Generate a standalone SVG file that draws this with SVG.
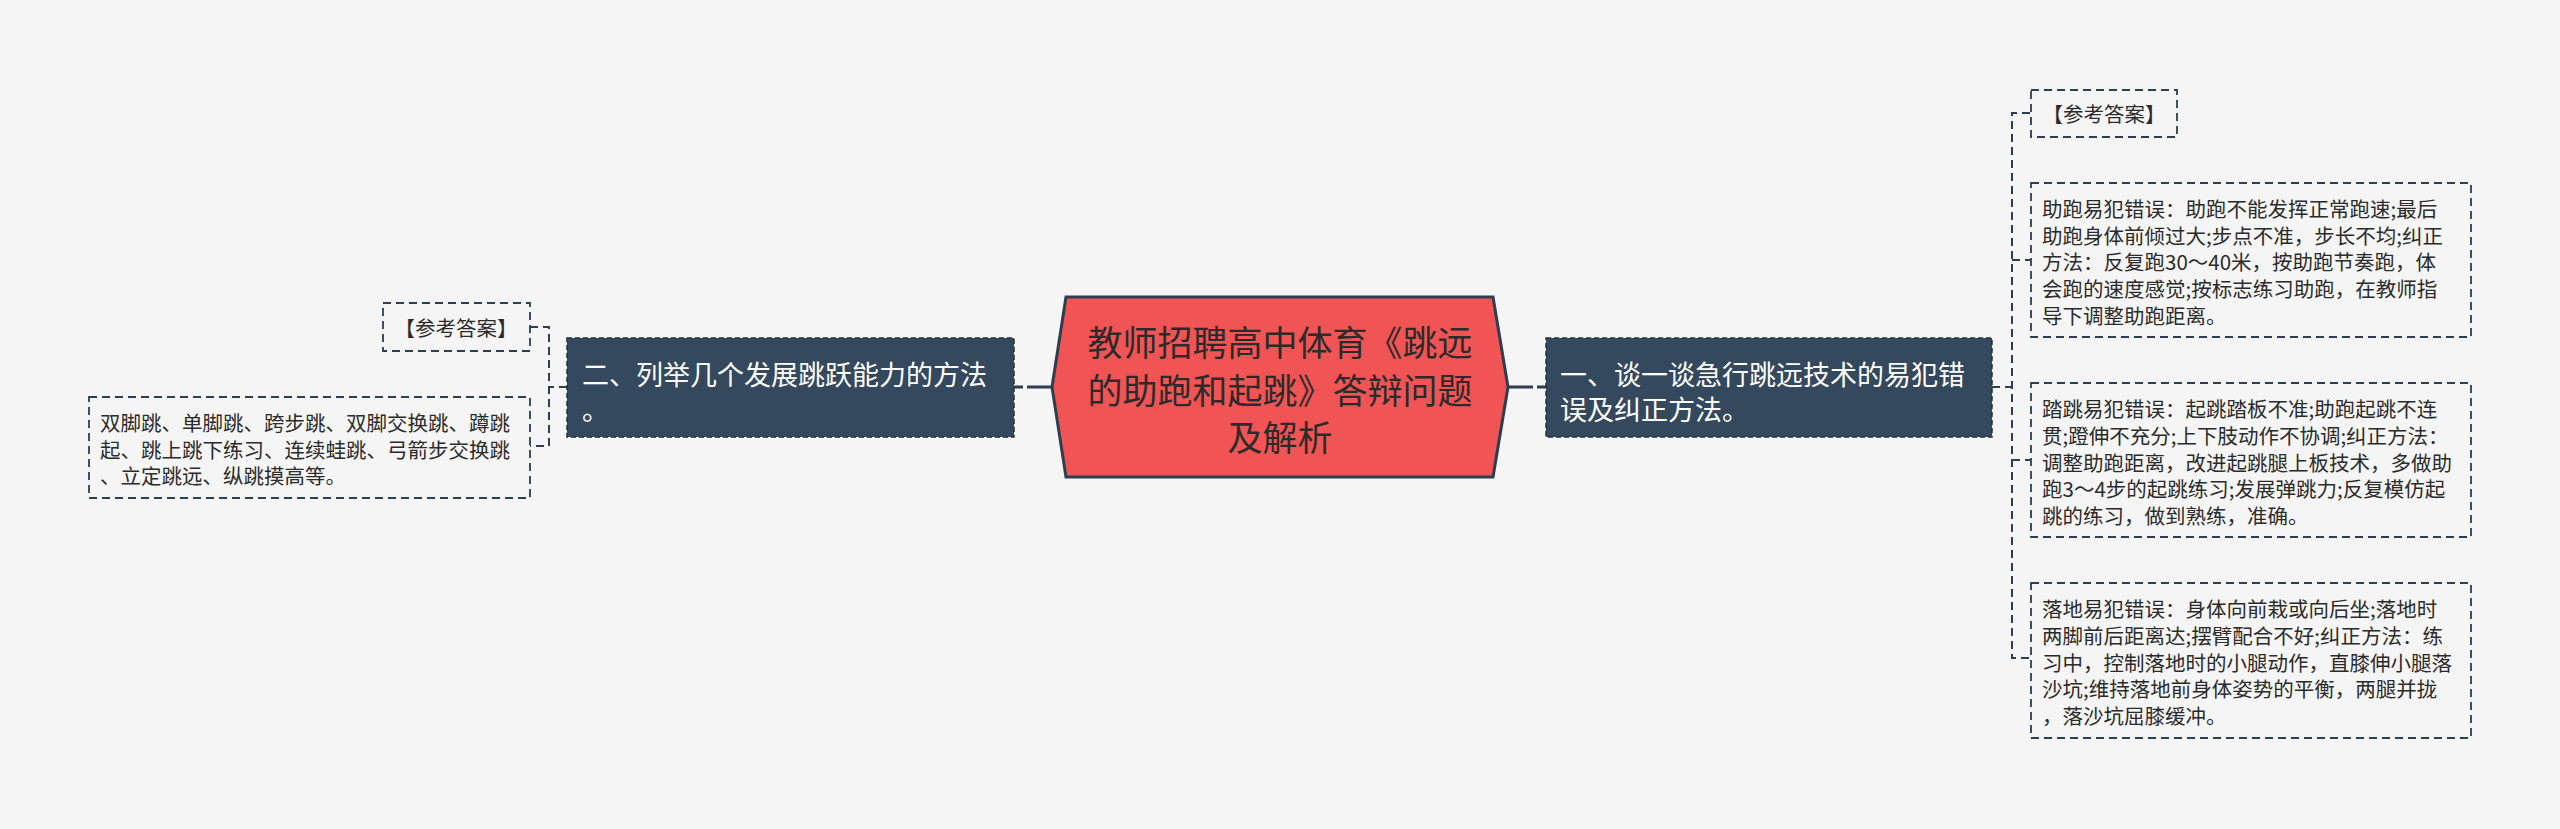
<svg xmlns="http://www.w3.org/2000/svg" width="2560" height="829" viewBox="0 0 2560 829">
<style>
text{font-family:"Noto Sans CJK SC","Noto Sans",sans-serif;dominant-baseline:central}
.center{fill:#F05454;stroke:#2C3E50;stroke-width:3}
.ctext{font-size:35px;fill:#2b2b2b;text-anchor:middle}
.main{fill:#34495E;stroke:#22313F;stroke-width:1.5;stroke-dasharray:5 3}
.mtext{font-size:27px;fill:#ffffff}
.leaf{fill:none;stroke:#2C3E50;stroke-width:1.8;stroke-dasharray:8 5}
.ltext{font-size:20.5px;fill:#2b2b2b}
.dash{fill:none;stroke:#2C3E50;stroke-width:2;stroke-dasharray:8 5}
.solid{fill:none;stroke:#2C3E50;stroke-width:3}
</style>
<rect width="2560" height="829" fill="#F5F5F5"/>
<g id="connectors">
<path class="solid" d="M1508 387 H1533"/>
<path class="solid" d="M1537 387 H1546" stroke-width="2.5"/>
<path class="solid" d="M1052 387 H1027"/>
<path class="solid" d="M1023 387 H1014" stroke-width="2.5"/>
<path class="dash" d="M1992 387 H2012"/>
<path class="dash" d="M2030 113 H2012 V658 H2030"/>
<path class="dash" d="M2012 260 H2030"/>
<path class="dash" d="M2012 460 H2030"/>
<path class="dash" d="M567 387 H549"/>
<path class="dash" d="M530 327 H549 V446 H530"/>
</g>
<g id="center">
<polygon class="center" points="1066,297 1493,297 1508,387 1493,477 1066,477 1052,387"/>
<text class="ctext" x="1280" y="340">教师招聘高中体育《跳远</text>
<text class="ctext" x="1280" y="388">的助跑和起跳》答辩问题</text>
<text class="ctext" x="1280" y="435">及解析</text>
</g>
<g id="node-right">
<rect class="main" x="1546" y="338" width="446" height="99"/>
<text class="mtext" x="1560" y="373">一、谈一谈急行跳远技术的易犯错</text>
<text class="mtext" x="1560" y="408">误及纠正方法。</text>
</g>
<g id="node-left">
<rect class="main" x="567" y="338" width="447" height="99"/>
<text class="mtext" x="582" y="373">二、列举几个发展跳跃能力的方法</text>
<text class="mtext" x="582" y="408">。</text>
</g>
<g id="leaf-right-ref">
<rect class="leaf" x="2031" y="90" width="146" height="47"/>
<text class="ltext" x="2104" y="113" text-anchor="middle">【参考答案】</text>
</g>
<g id="leaf-right-1">
<rect class="leaf" x="2031" y="183" width="440" height="154"/>
<text class="ltext" x="2042" y="208">助跑易犯错误：助跑不能发挥正常跑速;最后</text>
<text class="ltext" x="2042" y="234.5">助跑身体前倾过大;步点不准，步长不均;纠正</text>
<text class="ltext" x="2042" y="261">方法：反复跑30～40米，按助跑节奏跑，体</text>
<text class="ltext" x="2042" y="288">会跑的速度感觉;按标志练习助跑，在教师指</text>
<text class="ltext" x="2042" y="315">导下调整助跑距离。</text>
</g>
<g id="leaf-right-2">
<rect class="leaf" x="2031" y="383" width="440" height="154"/>
<text class="ltext" x="2042" y="408">踏跳易犯错误：起跳踏板不准;助跑起跳不连</text>
<text class="ltext" x="2042" y="435">贯;蹬伸不充分;上下肢动作不协调;纠正方法：</text>
<text class="ltext" x="2042" y="462">调整助跑距离，改进起跳腿上板技术，多做助</text>
<text class="ltext" x="2042" y="488">跑3～4步的起跳练习;发展弹跳力;反复模仿起</text>
<text class="ltext" x="2042" y="515">跳的练习，做到熟练，准确。</text>
</g>
<g id="leaf-right-3">
<rect class="leaf" x="2031" y="583" width="440" height="155"/>
<text class="ltext" x="2042" y="608">落地易犯错误：身体向前栽或向后坐;落地时</text>
<text class="ltext" x="2042" y="635">两脚前后距离达;摆臂配合不好;纠正方法：练</text>
<text class="ltext" x="2042" y="662">习中，控制落地时的小腿动作，直膝伸小腿落</text>
<text class="ltext" x="2042" y="688">沙坑;维持落地前身体姿势的平衡，两腿并拢</text>
<text class="ltext" x="2042" y="715">，落沙坑屈膝缓冲。</text>
</g>
<g id="leaf-left-ref">
<rect class="leaf" x="383" y="303" width="147" height="48"/>
<text class="ltext" x="456" y="327" text-anchor="middle">【参考答案】</text>
</g>
<g id="leaf-left-1">
<rect class="leaf" x="89" y="397" width="441" height="101"/>
<text class="ltext" x="100" y="422">双脚跳、单脚跳、跨步跳、双脚交换跳、蹲跳</text>
<text class="ltext" x="100" y="449">起、跳上跳下练习、连续蛙跳、弓箭步交换跳</text>
<text class="ltext" x="100" y="475">、立定跳远、纵跳摸高等。</text>
</g>
</svg>
